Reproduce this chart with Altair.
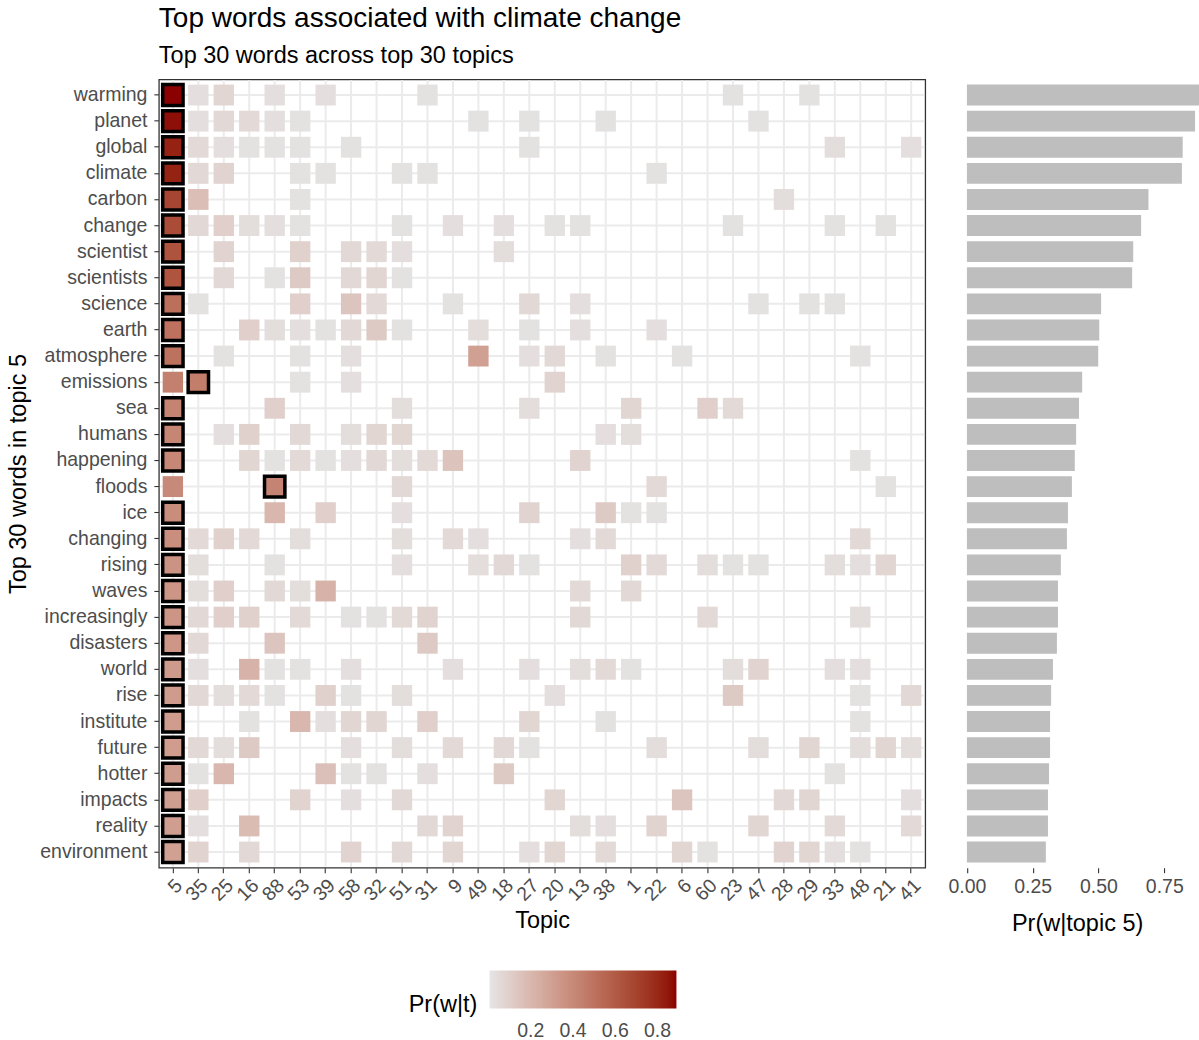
import altair as alt
import pandas as pd

FONT = "Liberation Sans"

words = ["warming", "planet", "global", "climate", "carbon", "change", "scientist",
         "scientists", "science", "earth", "atmosphere", "emissions", "sea", "humans",
         "happening", "floods", "ice", "changing", "rising", "waves", "increasingly",
         "disasters", "world", "rise", "institute", "future", "hotter", "impacts",
         "reality", "environment"]

topics = ["5", "35", "25", "16", "88", "53", "39", "58", "32", "51", "31", "9", "49",
          "18", "27", "20", "13", "38", "1", "22", "6", "60", "23", "47", "28", "29",
          "33", "48", "21", "41"]

# Pr(w | topic 5)
p_topic5 = [0.89, 0.867, 0.82, 0.817, 0.69, 0.662, 0.632, 0.628, 0.51, 0.503, 0.499,
            0.438, 0.426, 0.415, 0.41, 0.399, 0.384, 0.38, 0.357, 0.346, 0.346, 0.342,
            0.327, 0.32, 0.316, 0.316, 0.312, 0.308, 0.308, 0.30]

# Pr(w | t) for the other topics (only cells that are drawn)
other_topics = {
    "warming": {"35": .03, "25": .07, "88": .03, "39": .03, "31": .02, "23": .02, "29": .02},
    "planet": {"35": .03, "25": .06, "16": .05, "88": .03, "53": .02, "49": .02, "27": .02, "38": .02, "47": .02},
    "global": {"35": .05, "25": .03, "16": .02, "88": .02, "53": .02, "58": .02, "27": .02, "33": .04, "41": .03},
    "climate": {"35": .06, "25": .08, "53": .02, "39": .02, "51": .02, "31": .02, "22": .02},
    "carbon": {"35": .17, "53": .02, "28": .04},
    "change": {"35": .06, "25": .10, "16": .04, "88": .03, "53": .02, "51": .02, "9": .03, "18": .03, "20": .02, "13": .02, "23": .02, "33": .02, "21": .02},
    "scientist": {"25": .08, "53": .09, "58": .06, "32": .05, "51": .03, "18": .04},
    "scientists": {"25": .06, "88": .02, "53": .12, "58": .06, "32": .07, "51": .02},
    "science": {"35": .02, "53": .10, "58": .14, "32": .05, "9": .02, "27": .06, "13": .03, "47": .02, "29": .02, "33": .02},
    "earth": {"16": .10, "88": .04, "53": .03, "39": .02, "58": .06, "32": .12, "51": .02, "49": .04, "27": .02, "13": .03, "22": .03},
    "atmosphere": {"25": .02, "53": .02, "58": .03, "49": .30, "27": .03, "20": .06, "38": .02, "6": .02, "48": .02},
    "emissions": {"35": .45, "53": .02, "58": .03, "20": .08},
    "sea": {"88": .10, "51": .04, "27": .04, "1": .07, "60": .10, "23": .05},
    "humans": {"25": .03, "16": .09, "53": .06, "58": .04, "32": .07, "51": .07, "38": .03, "1": .04},
    "happening": {"16": .07, "88": .02, "53": .05, "39": .02, "58": .03, "32": .06, "51": .04, "31": .05, "9": .15, "13": .08, "48": .02},
    "floods": {"88": .42, "51": .06, "22": .05, "21": .02},
    "ice": {"88": .20, "39": .10, "51": .03, "27": .08, "38": .12, "1": .02, "22": .02},
    "changing": {"35": .05, "25": .09, "16": .05, "53": .04, "51": .04, "9": .05, "49": .03, "13": .03, "38": .05, "48": .06},
    "rising": {"35": .04, "88": .02, "51": .03, "49": .04, "18": .06, "27": .02, "1": .09, "22": .05, "60": .04, "23": .02, "47": .02, "33": .04, "48": .03, "21": .07},
    "waves": {"35": .04, "25": .10, "88": .06, "53": .04, "39": .22, "13": .05, "1": .06},
    "increasingly": {"35": .06, "25": .10, "16": .09, "53": .05, "58": .02, "32": .02, "51": .05, "31": .08, "13": .06, "60": .05, "48": .04},
    "disasters": {"35": .06, "88": .14, "31": .12},
    "world": {"35": .03, "16": .22, "88": .02, "53": .02, "58": .03, "9": .03, "27": .03, "13": .04, "38": .05, "1": .02, "23": .04, "47": .08, "33": .03, "48": .03},
    "rise": {"35": .06, "25": .04, "16": .05, "88": .02, "39": .09, "58": .02, "51": .04, "20": .03, "23": .12, "48": .02, "41": .06},
    "institute": {"16": .02, "53": .20, "39": .03, "58": .07, "32": .07, "31": .10, "27": .07, "38": .02, "48": .02},
    "future": {"35": .06, "25": .04, "16": .12, "58": .03, "51": .04, "9": .05, "18": .06, "27": .02, "22": .04, "47": .04, "29": .07, "48": .04, "21": .07, "41": .04},
    "hotter": {"35": .02, "25": .20, "39": .16, "58": .02, "32": .02, "31": .03, "18": .12, "33": .02},
    "impacts": {"35": .10, "53": .08, "58": .03, "51": .06, "20": .07, "6": .14, "28": .06, "29": .07, "41": .03},
    "reality": {"35": .03, "16": .18, "31": .06, "9": .08, "13": .04, "38": .03, "22": .08, "47": .07, "33": .05, "41": .05},
    "environment": {"35": .08, "16": .06, "58": .08, "51": .06, "9": .07, "27": .03, "20": .07, "38": .05, "6": .07, "60": .02, "28": .08, "29": .07, "33": .03, "48": .02},
}

legend_values = [0.2, 0.4, 0.6, 0.8]
bar_ticks = [0, 0.25, 0.5, 0.75]

rows = []
for w, p in zip(words, p_topic5):
    rows.append({"word": w, "topic": "5", "p": p})
    for t, v in other_topics[w].items():
        rows.append({"word": w, "topic": t, "p": v})
df = pd.DataFrame(rows)
df["is_top"] = df["p"] == df.groupby("word")["p"].transform("max")

bars_df = pd.DataFrame({"word": words, "p": p_topic5})
topics_df = pd.DataFrame({"topic": topics})
words_df = pd.DataFrame({"word": words})

LABEL_COLOR = "#4D4D4D"
LABEL_SIZE = 19.5
TITLE_SIZE = 23.5
GRID = "#EBEBEB"
W, H = 767, 789

xsc = alt.Scale(domain=topics, paddingInner=0.2, paddingOuter=0.15)
ysc = alt.Scale(domain=words, paddingInner=0.2, paddingOuter=0.2)

x_enc = alt.X("topic:N", scale=xsc, axis=alt.Axis(
    title="Topic", labelAngle=-45, labelAlign="right", labelBaseline="top",
    grid=False, labelPadding=3, titlePadding=4))
y_enc = alt.Y("word:N", scale=ysc, axis=alt.Axis(
    title="Top 30 words in topic 5", grid=False, labelPadding=7, titlePadding=9))

color_enc = alt.Color(
    "p:Q",
    scale=alt.Scale(domain=[0.005, 0.89], range=["#E5E5E5", "#8B0000"], interpolate="lab"),
    legend=alt.Legend(
        title="Pr(w|t)", orient="none", legendX=250, legendY=892,
        direction="horizontal", gradientLength=187, gradientThickness=38,
        values=legend_values, titleOrient="left", titlePadding=12,
        titleAnchor="middle", titleBaseline="line-top", titleLineHeight=30,
        titleFont=FONT, titleFontSize=TITLE_SIZE, titleFontWeight="normal", titleColor="black",
        labelFont=FONT, labelFontSize=LABEL_SIZE, labelColor=LABEL_COLOR, labelOffset=13,
        gradientStrokeWidth=0,
    ),
)

# grid lines kept just inside the panel border
vgrid = alt.Chart(topics_df).mark_rule(color=GRID, strokeWidth=2).encode(
    x=x_enc, y=alt.value(1), y2=alt.value(H - 1))
hgrid = alt.Chart(words_df).mark_rule(color=GRID, strokeWidth=2).encode(
    y=y_enc, x=alt.value(1), x2=alt.value(W - 1))

base = alt.Chart(df).encode(x=x_enc, y=y_enc)
tiles = base.mark_rect().encode(color=color_enc)
tops = base.transform_filter("datum.is_top").mark_rect(
    stroke="black", strokeWidth=3.5).encode(color=color_enc)

heat = alt.layer(vgrid, hgrid, tiles, tops).properties(
    width=W, height=H,
    view=alt.ViewBackground(stroke="#333333", strokeWidth=1.3, fill="white"),
)

bars = alt.Chart(bars_df).mark_bar(color="#BEBEBE", clip=True).encode(
    y=alt.Y("word:N", scale=ysc, axis=None),
    x=alt.X("p:Q", scale=alt.Scale(domain=[-0.0445, 0.882], nice=False, zero=False),
            axis=alt.Axis(title="Pr(w|topic 5)", values=bar_ticks, format=".2f",
                          grid=False, labelPadding=5, titlePadding=15)),
).properties(width=244, height=H)

chart = alt.hconcat(heat, bars, spacing=30, bounds="flush").properties(
    title=alt.TitleParams(
        text="Top words associated with climate change",
        subtitle="Top 30 words across top 30 topics",
        anchor="start", frame="group", font=FONT, fontSize=28, fontWeight="normal",
        color="black", subtitleFont=FONT, subtitleFontSize=23.5, subtitleColor="black",
        subtitlePadding=11, offset=11,
    ),
    padding={"left": 6, "top": 4, "right": 0, "bottom": 0},
    background="white",
).configure_view(strokeWidth=0).configure_axis(
    labelFont=FONT, labelFontSize=LABEL_SIZE, labelColor=LABEL_COLOR,
    titleFont=FONT, titleFontSize=TITLE_SIZE, titleColor="black", titleFontWeight="normal",
    tickColor="#333333", tickSize=5, tickWidth=1.1, domain=False,
)

chart.save("out.html", embed_options={"renderer": "svg", "actions": False})
